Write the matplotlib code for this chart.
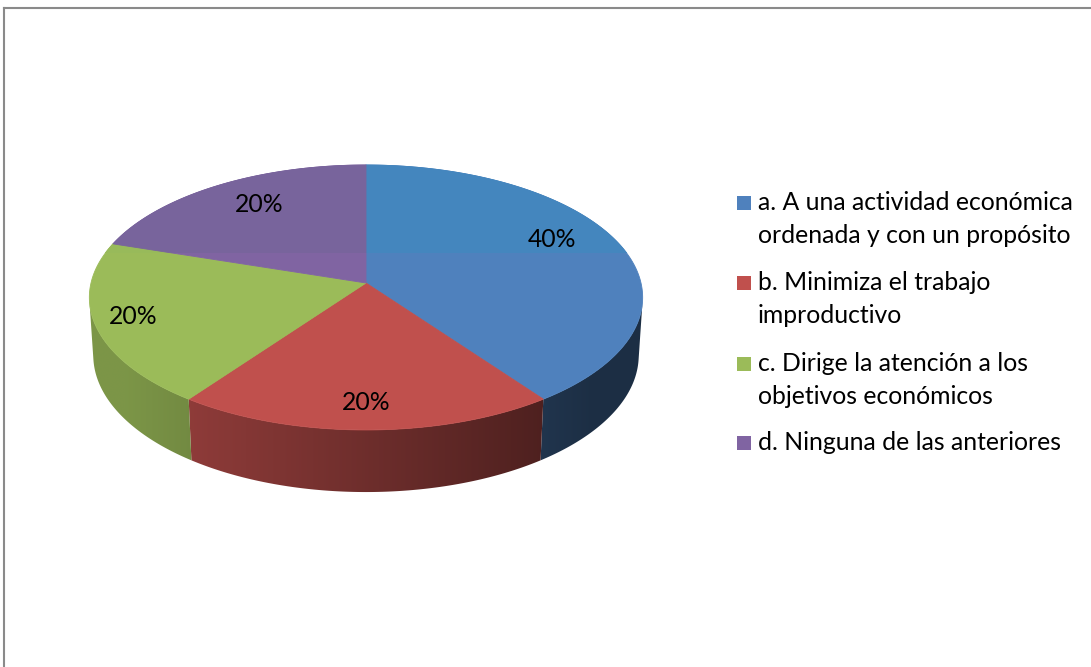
import numpy as np
import matplotlib
matplotlib.use("Agg")
import matplotlib.pyplot as plt
from matplotlib.patches import Polygon, Rectangle
from matplotlib.colors import to_rgb

# ---- data ----
categories = [
    "a. A una actividad económica\nordenada y con un propósito",
    "b. Minimiza el trabajo\nimproductivo",
    "c. Dirige la atención a los\nobjetivos económicos",
    "d. Ninguna de las anteriores",
]
values = [40, 20, 20, 20]
colors = ["#4F81BD", "#C0504D", "#9BBB59", "#8064A2"]
top_upper_colors = ["#4486BE", "#C0504D", "#98BA5A", "#78649C"]

# ---- layout / style ----
W, H = 1091, 667
FONT = "Lato"
FS = 17.8
cx, cy, S = 366.0, 283.0, 275.0          # projected centre and scale (pixels)
sphi = 0.476
cphi = np.sqrt(1 - sphi ** 2)
D = 8.05                                  # camera distance (perspective)
THICK = 0.241                             # pie thickness
label_r = [0.78, 0.83, 0.86, 0.76]
label_shift = [8.0, 0.0, -1.0, -3.0]
band_y = 253

fig = plt.figure(figsize=(W / 100, H / 100), dpi=100)
ax = fig.add_axes([0, 0, 1, 1])
ax.set_xlim(0, W)
ax.set_ylim(H, 0)
ax.axis("off")


def proj(t, r=1.0, h=0.0):
    u = r * np.cos(t)
    v = r * np.sin(t)
    depth = D + v * cphi - h * sphi
    X = u * D / depth
    Y = (v * sphi + h * cphi) * D / depth
    return cx + S * X, cy - S * Y


total = float(sum(values))
fracs = [v / total for v in values]
starts = []
a = np.pi / 2
for f in fracs:
    starts.append(a)
    a -= f * 2 * np.pi

# visible side range (front)
v_sil = -1.0 / (D * cphi)
t_sil = np.arcsin(v_sil)
vis_lo, vis_hi = -np.pi - t_sil, t_sil


def shade(x):
    f = 0.74 - (x - 190.0) / 350.0 * 0.33
    return float(np.clip(f, 0.36, 0.80))


# ---- sides ----
for i, (st, f) in enumerate(zip(starts, fracs)):
    t0, t1 = st - f * 2 * np.pi, st
    for off in (0.0, -2 * np.pi, 2 * np.pi):
        lo = max(t0 + off, vis_lo)
        hi = min(t1 + off, vis_hi)
        if hi <= lo:
            continue
        ts = np.linspace(lo, hi, 200)
        xt, yt = proj(ts, 1.0, 0.0)
        xb, yb = proj(ts[::-1], 1.0, -THICK)
        pts = np.column_stack([np.concatenate([xt, xb]), np.concatenate([yt, yb])])
        poly = Polygon(pts, closed=True, facecolor="none", edgecolor="none")
        ax.add_patch(poly)
        xs = np.linspace(pts[:, 0].min() - 2, pts[:, 0].max() + 2, 300)
        base = np.array(to_rgb(colors[i]))
        grad = np.array([base * shade(x) for x in xs])[None, :, :]
        im = ax.imshow(grad, extent=(xs[0], xs[-1], pts[:, 1].max() + 2, pts[:, 1].min() - 2),
                       aspect="auto", interpolation="bilinear", zorder=1)
        im.set_clip_path(poly)
        ax.set_xlim(0, W)
        ax.set_ylim(H, 0)

# ---- tops ----
for i, (st, f) in enumerate(zip(starts, fracs)):
    ts = np.linspace(st, st - f * 2 * np.pi, 300)
    xt, yt = proj(ts)
    pts = np.column_stack([np.concatenate([[cx], xt]), np.concatenate([[cy], yt])])
    p = Polygon(pts, closed=True, facecolor=colors[i], edgecolor=colors[i], lw=0.6, zorder=2)
    ax.add_patch(p)
    p2 = Polygon(pts, closed=True, facecolor=top_upper_colors[i],
                 edgecolor=top_upper_colors[i], lw=0.6, zorder=2.1)
    ax.add_patch(p2)
    clip = Rectangle((0, 0), W, band_y, transform=ax.transData)
    p2.set_clip_path(clip)

# ---- labels ----
for i, (st, f) in enumerate(zip(starts, fracs)):
    mid = st - f * np.pi + np.deg2rad(label_shift[i])
    lx, ly = proj(mid, label_r[i])
    ax.text(lx, ly, f"{values[i]:.0f}%", ha="center", va="center",
            fontsize=FS, family=FONT, color="black", zorder=5)

# ---- legend ----
leg_x_box, leg_x_txt = 737, 758
leg_base = [210, 290, 371, 450]   # baseline of first line of each entry
line_gap = 33
for i, lab in enumerate(categories):
    ax.add_patch(Rectangle((leg_x_box, leg_base[i] - 14), 14, 14,
                           facecolor=colors[i], edgecolor="none", zorder=5))
    for k, line in enumerate(lab.split("\n")):
        ax.text(leg_x_txt, leg_base[i] + k * line_gap, line, ha="left", va="baseline",
                fontsize=FS, family=FONT, color="black", zorder=5)

# ---- frame ----
ax.plot([3.5, W], [7.5, 7.5], color="#8a8a8a", lw=1.5, zorder=6)
ax.plot([3.5, 3.5], [7.5, H], color="#8a8a8a", lw=1.5, zorder=6)

fig.savefig("out.png", dpi=100)
